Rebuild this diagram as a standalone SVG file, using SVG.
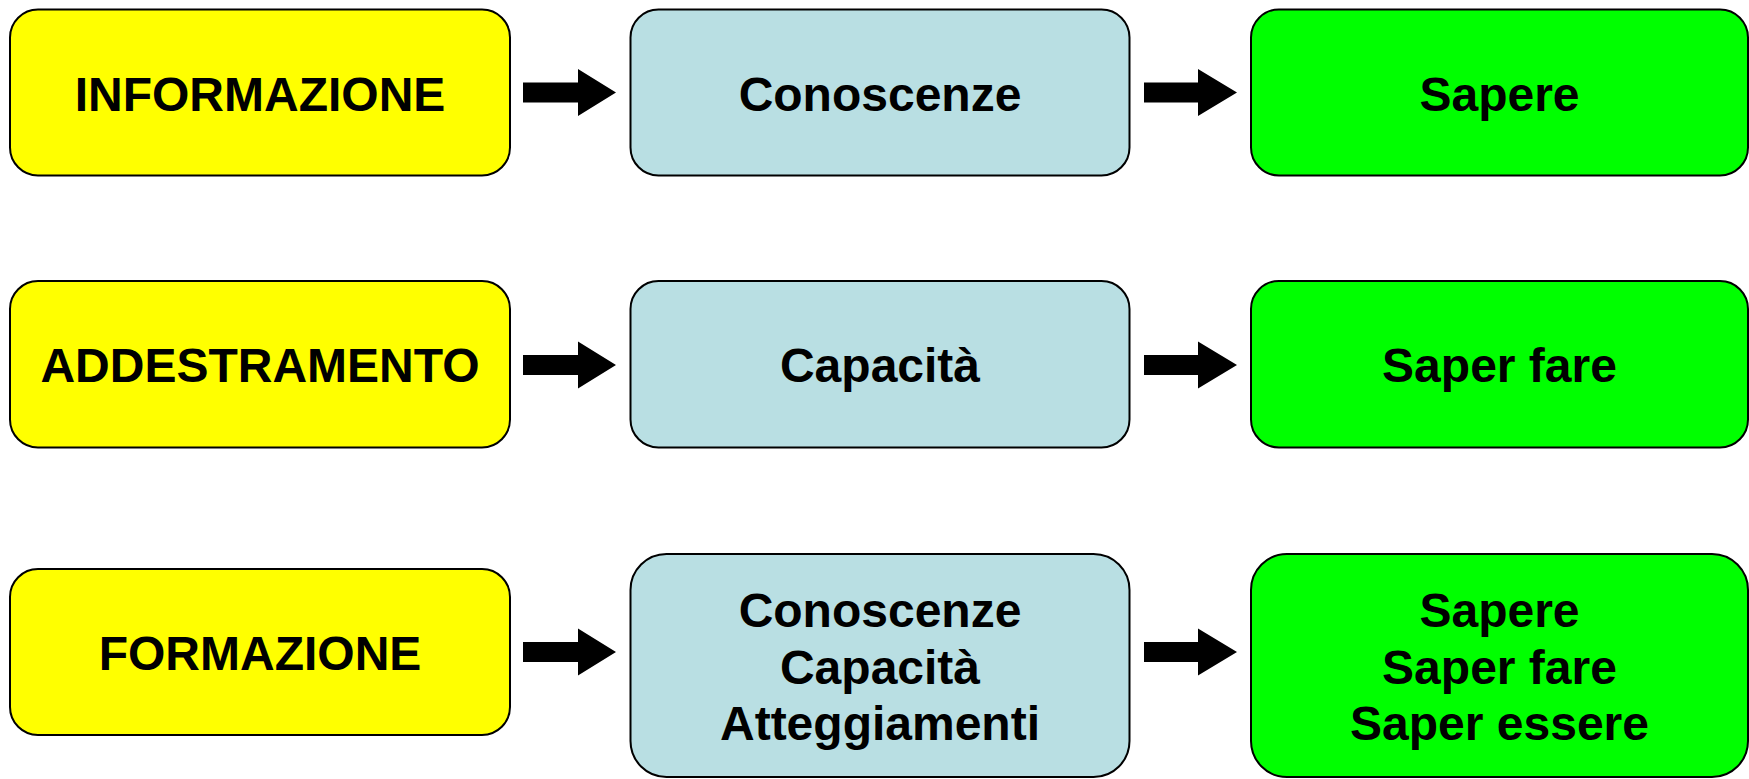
<svg xmlns="http://www.w3.org/2000/svg" width="1749" height="779" viewBox="0 0 1749 779">
<style>
.box{stroke:#000;stroke-width:2}
.y{fill:#FFFF00}
.b{fill:#B9DFE3}
.g{fill:#00FF00}
text{font-family:"Liberation Sans",Arial,sans-serif;font-weight:bold;font-size:48px;fill:#000;text-anchor:middle}
.arrow{fill:#000}
</style>
<rect width="1749" height="779" fill="#fff"/>
<g id="n-informazione"><rect class="box y" x="10" y="9.5" width="500" height="166" rx="28"/><text x="260" y="111">INFORMAZIONE</text></g>
<g id="n-conoscenze"><rect class="box b" x="630.5" y="9.5" width="499" height="166" rx="28"/><text x="880" y="111">Conoscenze</text></g>
<g id="n-sapere"><rect class="box g" x="1251" y="9.5" width="497" height="166" rx="28"/><text x="1499.5" y="111">Sapere</text></g>
<g id="n-addestramento"><rect class="box y" x="10" y="281" width="500" height="166.5" rx="28"/><text x="260" y="382">ADDESTRAMENTO</text></g>
<g id="n-capacita"><rect class="box b" x="630.5" y="281" width="499" height="166.5" rx="28"/><text x="880" y="382">Capacità</text></g>
<g id="n-saperfare"><rect class="box g" x="1251" y="281" width="497" height="166.5" rx="28"/><text x="1499.5" y="382">Saper fare</text></g>
<g id="n-formazione"><rect class="box y" x="10" y="569" width="500" height="166" rx="28"/><text x="260" y="670">FORMAZIONE</text></g>
<g id="n-cca"><rect class="box b" x="630.5" y="554" width="499" height="223" rx="36"/><text x="880" y="627">Conoscenze</text><text x="880" y="683.5">Capacità</text><text x="880" y="740">Atteggiamenti</text></g>
<g id="n-sse"><rect class="box g" x="1251" y="554" width="497" height="223" rx="36"/><text x="1499.5" y="627">Sapere</text><text x="1499.5" y="683.5">Saper fare</text><text x="1499.5" y="740">Saper essere</text></g>
<g id="connectors">
<polygon class="arrow" points="523,82.5 578,82.5 578,69 616,92.5 578,116 578,102.5 523,102.5"/>
<polygon class="arrow" points="1144,82.5 1198,82.5 1198,69 1237,92.5 1198,116 1198,102.5 1144,102.5"/>
<polygon class="arrow" points="523,355 578,355 578,341.5 616,365 578,388.5 578,375 523,375"/>
<polygon class="arrow" points="1144,355 1198,355 1198,341.5 1237,365 1198,388.5 1198,375 1144,375"/>
<polygon class="arrow" points="523,642 578,642 578,628.5 616,652 578,675.5 578,662 523,662"/>
<polygon class="arrow" points="1144,642 1198,642 1198,628.5 1237,652 1198,675.5 1198,662 1144,662"/>
</g>
</svg>
